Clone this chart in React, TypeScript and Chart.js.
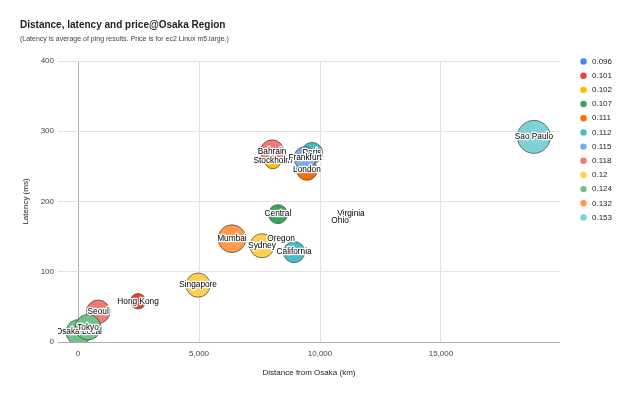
import React, { useEffect, useRef } from "react";
import { Chart, registerables } from "chart.js";
Chart.register(...registerables);

const titleText = "Distance, latency and price@Osaka Region";
const subtitleText = "(Latency is average of ping results. Price is for ec2 Linux m5.large.)";
const xAxisTitle = "Distance from Osaka (km)";
const yAxisTitle = "Latency (ms)";

const regions = ["Osaka Local", "Seoul", "Tokyo", "Hong Kong", "Singapore", "Mumbai", "Sydney", "California", "Oregon", "Central", "Stockholm", "Bahrain", "London", "Paris", "Frankfurt", "Virginia", "Ohio", "Sao Paulo"];
const distanceKm = [30, 830, 410, 2480, 4960, 6360, 7600, 8930, 8390, 8260, 8050, 8020, 9460, 9670, 9380, 11280, 10830, 18840];
const latencyMs = [14, 43, 21, 58, 81, 147, 137, 128, 147, 182, 258, 271, 245, 269, 262, 182, 172, 292];
const priceUsd = [0.124, 0.118, 0.124, 0.101, 0.12, 0.132, 0.12, 0.112, 0.096, 0.107, 0.102, 0.118, 0.111, 0.112, 0.115, 0.096, 0.096, 0.153];

const priceLevels = [0.096, 0.101, 0.102, 0.107, 0.111, 0.112, 0.115, 0.118, 0.12, 0.124, 0.132, 0.153];
const levelColors = ["#4285F4", "#EA4335", "#FBBC04", "#34A853", "#FF6D01", "#46BDC6", "#7BAAF7", "#F07B72", "#FCD04F", "#71C287", "#FF994D", "#7ED1D7"];

const xTicks = [0, 5000, 10000, 15000];
const yTicks = [0, 100, 200, 300, 400];

const FONT = '"Liberation Sans", Arial, sans-serif';

// bubble size axis: area grows with price above the cheapest level
function bubbleRadius(p: number): number {
  const minP = priceLevels[0];
  const maxP = priceLevels[priceLevels.length - 1];
  if (p <= minP) return 0;
  return 4 + 12.5 * Math.sqrt((p - minP) / (maxP - minP));
}

function colorFor(p: number): string {
  const i = priceLevels.indexOf(p);
  return levelColors[i >= 0 ? i : 0];
}

const overlayPlugin = {
  id: "overlay",
  afterDatasetsDraw(chart: any) {
    const ctx = chart.ctx;
    const area = chart.chartArea;
    const meta = chart.getDatasetMeta(0);
    ctx.save();
    ctx.beginPath();
    ctx.rect(area.left, area.top, area.right - area.left, area.bottom - area.top);
    ctx.clip();
    ctx.font = `8.3px ${FONT}`;
    ctx.textAlign = "center";
    ctx.textBaseline = "middle";
    ctx.lineJoin = "round";
    meta.data.forEach((el: any, i: number) => {
      const x = el.x;
      const y = el.y;
      ctx.strokeStyle = "#ffffff";
      ctx.lineWidth = 2.5;
      ctx.strokeText(regions[i], x, y);
      ctx.fillStyle = "#000000";
      ctx.fillText(regions[i], x, y);
    });
    ctx.restore();
  },
  afterDraw(chart: any) {
    const ctx = chart.ctx;
    ctx.save();
    ctx.textAlign = "left";
    ctx.textBaseline = "middle";
    ctx.fillStyle = "#222222";
    ctx.font = `bold 10px ${FONT}`;
    ctx.fillText(titleText, 20, 25);
    ctx.fillStyle = "#444444";
    ctx.font = `7px ${FONT}`;
    ctx.fillText(subtitleText, 20, 39.5);

    // legend
    ctx.font = `8px ${FONT}`;
    priceLevels.forEach((p, i) => {
      const y = 61.5 + i * 14.18;
      ctx.beginPath();
      ctx.fillStyle = levelColors[i];
      ctx.arc(583.5, y, 3.2, 0, Math.PI * 2);
      ctx.fill();
      ctx.fillStyle = "#222222";
      ctx.fillText(String(p), 592, y);
    });
    ctx.restore();
  },
};

export default function App() {
  const canvasRef = useRef<HTMLCanvasElement | null>(null);

  useEffect(() => {
    document.body.style.margin = "0";
    const canvas = canvasRef.current;
    if (!canvas) return;
    const data = regions.map((_, i) => ({ x: distanceKm[i], y: latencyMs[i], r: bubbleRadius(priceUsd[i]) }));
    const chart = new Chart(canvas, {
      type: "bubble",
      data: {
        datasets: [
          {
            label: "regions",
            data,
            backgroundColor: regions.map((_, i) => colorFor(priceUsd[i])),
            borderColor: "rgba(60,60,60,0.85)",
            borderWidth: 0.8,
          },
        ],
      },
      options: {
        responsive: false,
        animation: false,
        events: [],
        layout: { padding: { left: 0, top: 61, right: 80, bottom: 0 } },
        plugins: {
          legend: { display: false },
          tooltip: { enabled: false },
          title: { display: false },
        },
        scales: {
          x: {
            type: "linear",
            min: -830,
            max: 19920,
            afterBuildTicks: (scale: any) => {
              scale.ticks = xTicks.map((v) => ({ value: v }));
            },
            afterFit: (scale: any) => {
              scale.height = 55;
            },
            grid: {
              drawTicks: false,
              color: (c: any) => (c.tick && c.tick.value === 0 ? "#b0b0b0" : "#e2e2e2"),
              lineWidth: 1,
            },
            border: { display: false },
            ticks: {
              padding: 7,
              color: "#444444",
              font: { size: 8, family: FONT },
              maxRotation: 0,
            },
            title: {
              display: true,
              text: xAxisTitle,
              color: "#222222",
              font: { size: 8, family: FONT },
              padding: { top: 4, bottom: 19 },
            },
          },
          y: {
            type: "linear",
            min: 0,
            max: 400,
            afterBuildTicks: (scale: any) => {
              scale.ticks = yTicks.map((v) => ({ value: v }));
            },
            afterFit: (scale: any) => {
              scale.width = 58;
            },
            grid: {
              drawTicks: false,
              color: (c: any) => (c.tick && c.tick.value === 0 ? "#b0b0b0" : "#e2e2e2"),
              lineWidth: 1,
            },
            border: { display: false },
            ticks: {
              padding: 4,
              color: "#444444",
              font: { size: 8, family: FONT },
            },
            title: {
              display: true,
              text: yAxisTitle,
              color: "#222222",
              font: { size: 8, family: FONT },
              padding: { top: 21, bottom: 0 },
            },
          },
        },
      },
      plugins: [overlayPlugin],
    });
    return () => chart.destroy();
  }, []);

  return (
    <div style={{ position: "fixed", left: 0, top: 0, width: 640, height: 397, background: "#fff" }}>
      <canvas ref={canvasRef} width={640} height={397} style={{ display: "block" }} />
    </div>
  );
}
